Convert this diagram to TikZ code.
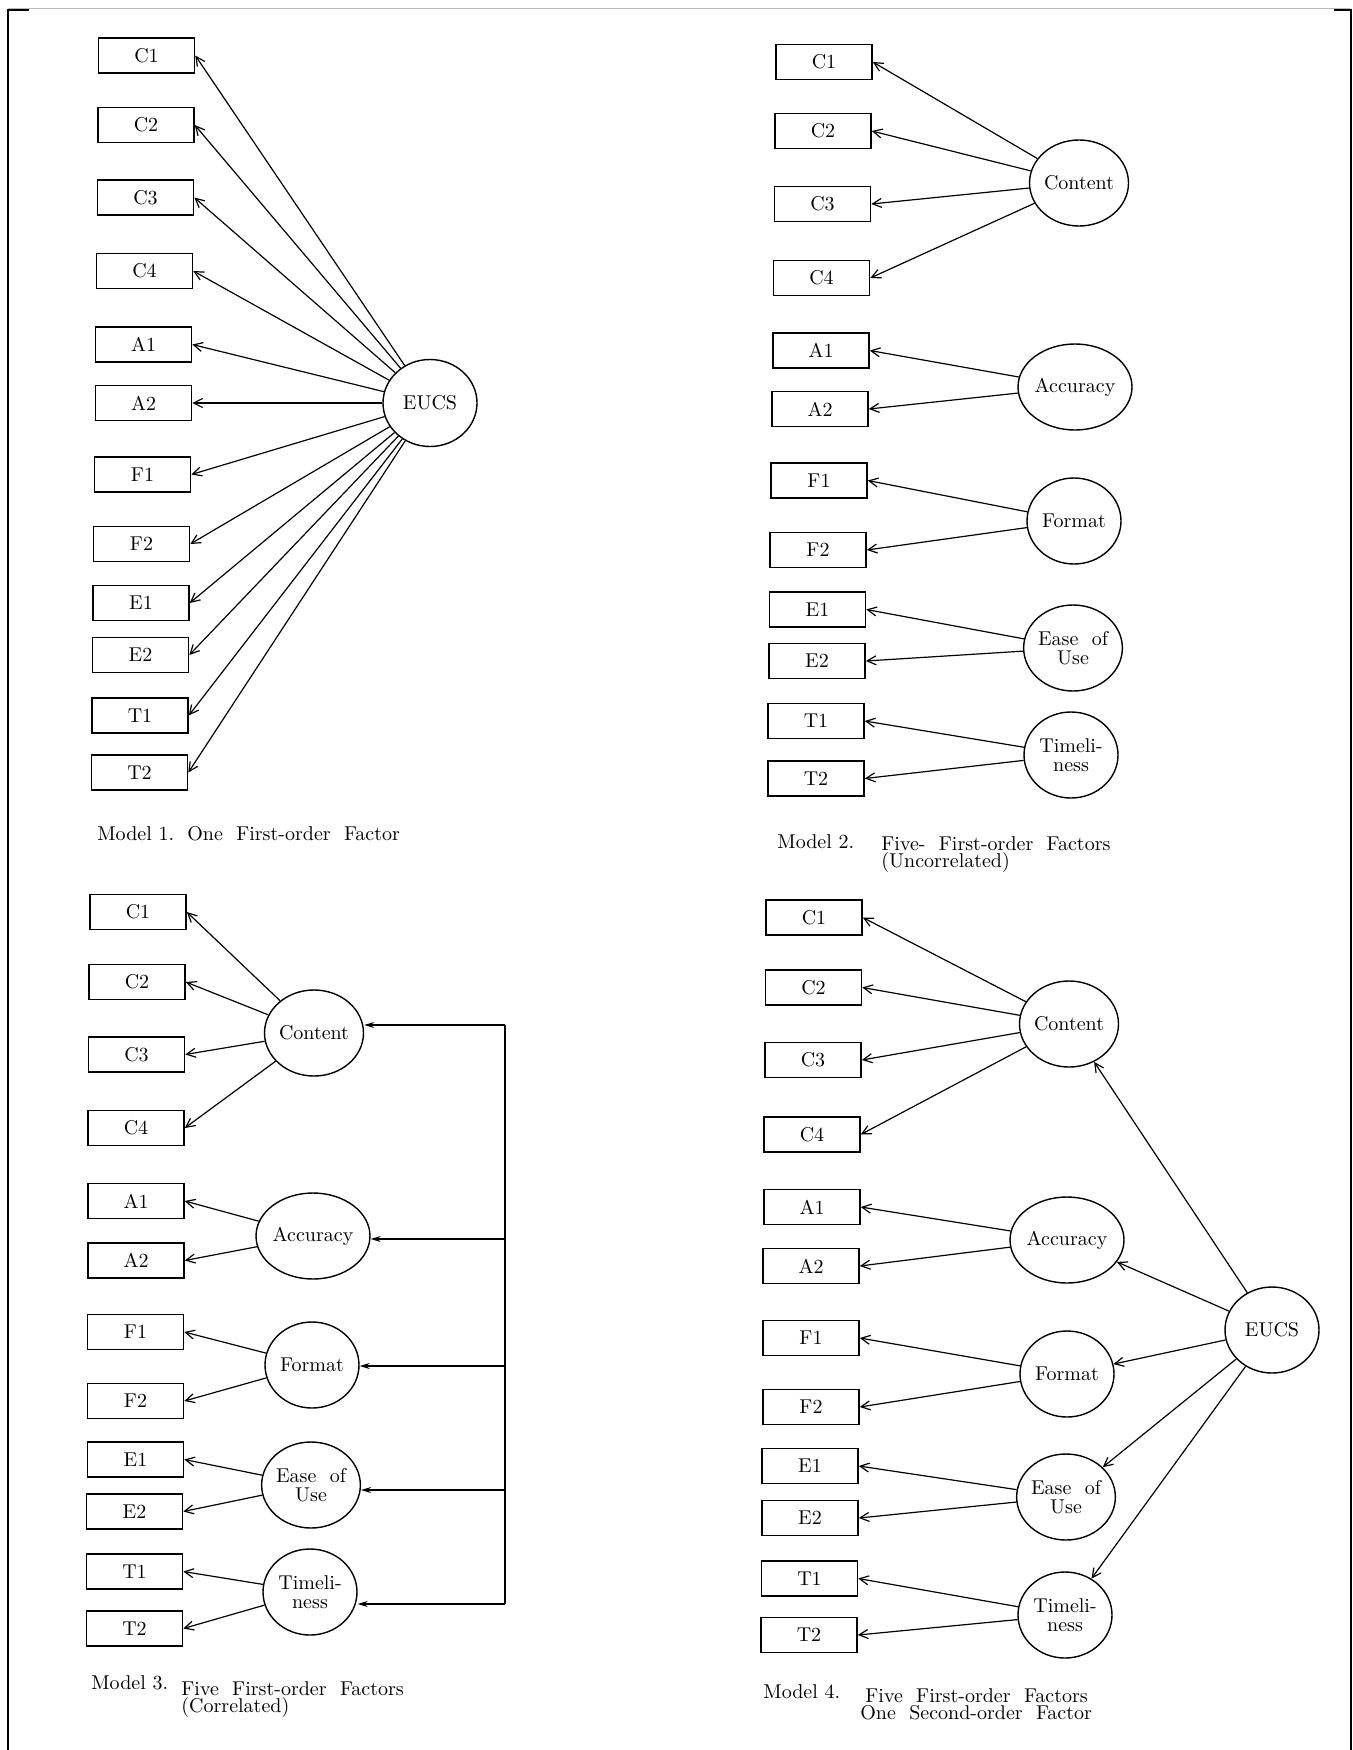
\documentclass[tikz,border=0pt]{standalone}
\usetikzlibrary{arrows.meta,shapes.geometric}
\begin{document}
\begin{tikzpicture}[x=0.5pt,y=-0.5pt,
  obs/.style={draw, line width=0.8pt, minimum width=48pt, minimum height=17.5pt, inner sep=0pt, font=\fontsize{10}{12}\selectfont},
  lat/.style={draw, ellipse, line width=0.7pt, minimum width=47pt, minimum height=43pt, inner sep=0pt, align=center, font=\fontsize{10}{9.5}\selectfont},
  ld/.style={line width=0.6pt, -{Straight Barb[length=4.5pt,width=4.5pt]}},
  corr/.style={line width=0.6pt, -{Stealth[length=5pt,width=3pt]}},
  captxt/.style={anchor=base west, inner sep=0pt, font=\fontsize{10}{12}\selectfont},
  pgframe/.style={line width=0.8pt}]
\useasboundingbox (0,0) rectangle (1353,1750);
% page frame
\draw[gray!55, line width=0.5pt] (8,9) -- (1351,9);
\coordinate (fa) at (8,10);
\coordinate (fb) at (29,10);
\coordinate (fc) at (1334,10);
\coordinate (fd) at (1351,10);
\coordinate (fe) at (8,1750);
\coordinate (ff) at (1351,1750);
\draw[pgframe] (fb) -- (fa) -- (fe);
\draw[pgframe] (fc) -- (fd) -- (ff);

% ---------------- Model 1 ----------------
\node[obs] (m1c1) at (146.5,55.5) {C1};
\node[obs] (m1c2) at (146,125) {C2};
\node[obs] (m1c3) at (145.5,197.5) {C3};
\node[obs] (m1c4) at (144.5,271) {C4};
\node[obs] (m1a1) at (143.5,344.5) {A1};
\node[obs] (m1a2) at (143.5,403) {A2};
\node[obs] (m1f1) at (142.5,474.5) {F1};
\node[obs] (m1f2) at (141.5,544) {F2};
\node[obs] (m1e1) at (141,603) {E1};
\node[obs] (m1e2) at (140.5,655) {E2};
\node[obs] (m1t1) at (140,715.5) {T1};
\node[obs] (m1t2) at (139.5,772.5) {T2};
\node[lat, minimum height=43.5pt] (m1eucs) at (430,403) {EUCS};
\foreach \b in {c1,c2,c3,c4,a1,a2,f1,f2,e1,e2,t1,t2}
  \draw[ld] (m1eucs) -- (m1\b.east);
\node[captxt] (cap1) at (97,840) {Model 1.\ \ One\ \ First-order\ \ Factor};

% ---------------- Model 2 ----------------
\node[obs] (m2c1) at (824,62) {C1};
\node[obs] (m2c2) at (823,131) {C2};
\node[obs] (m2c3) at (822.5,204) {C3};
\node[obs] (m2c4) at (821.5,278) {C4};
\node[obs] (m2a1) at (821,350.5) {A1};
\node[obs] (m2a2) at (820,409) {A2};
\node[obs] (m2f1) at (819,480.5) {F1};
\node[obs] (m2f2) at (818,550) {F2};
\node[obs] (m2e1) at (817.5,609.5) {E1};
\node[obs] (m2e2) at (817,661) {E2};
\node[obs] (m2t1) at (816,721) {T1};
\node[obs] (m2t2) at (816,778.5) {T2};
\node[lat] (m2con) at (1079,183) {Content};
\node[lat] (m2acc) at (1075,387) {Accuracy};
\node[lat] (m2for) at (1074,521) {Format};
\node[lat] (m2eas) at (1073,648) {Ease\ \ of\\Use};
\node[lat] (m2tim) at (1071,755) {Timeli-\\ness};
\foreach \b in {c1,c2,c3,c4} \draw[ld] (m2con) -- (m2\b.east);
\foreach \b in {a1,a2} \draw[ld] (m2acc) -- (m2\b.east);
\foreach \b in {f1,f2} \draw[ld] (m2for) -- (m2\b.east);
\foreach \b in {e1,e2} \draw[ld] (m2eas) -- (m2\b.east);
\foreach \b in {t1,t2} \draw[ld] (m2tim) -- (m2\b.east);
\node[captxt] (cap2a) at (777,848) {Model 2.};
\node[captxt] (cap2b) at (881,850) {Five-\ \ First-order\ \ Factors};
\node[captxt] (cap2c) at (881,867) {(Uncorrelated)};

% ---------------- Model 3 ----------------
\node[obs] (m3c1) at (138,912) {C1};
\node[obs] (m3c2) at (137,982) {C2};
\node[obs] (m3c3) at (136.5,1054.5) {C3};
\node[obs] (m3c4) at (136,1128) {C4};
\node[obs] (m3a1) at (136,1201) {A1};
\node[obs] (m3a2) at (136,1260.5) {A2};
\node[obs] (m3f1) at (135.5,1332) {F1};
\node[obs] (m3f2) at (135.5,1401) {F2};
\node[obs] (m3e1) at (135.5,1459.5) {E1};
\node[obs] (m3e2) at (134.5,1511.5) {E2};
\node[obs] (m3t1) at (134.5,1571.5) {T1};
\node[obs] (m3t2) at (134.5,1628.5) {T2};
\node[lat] (m3con) at (314,1033) {Content};
\node[lat] (m3acc) at (313,1236) {Accuracy};
\node[lat] (m3for) at (312,1365) {Format};
\node[lat] (m3eas) at (311,1485) {Ease\ \ of\\Use};
\node[lat] (m3tim) at (310,1592) {Timeli-\\ness};
\foreach \b in {c1,c2,c3,c4} \draw[ld] (m3con) -- (m3\b.east);
\foreach \b in {a1,a2} \draw[ld] (m3acc) -- (m3\b.east);
\foreach \b in {f1,f2} \draw[ld] (m3for) -- (m3\b.east);
\foreach \b in {e1,e2} \draw[ld] (m3eas) -- (m3\b.east);
\foreach \b in {t1,t2} \draw[ld] (m3tim) -- (m3\b.east);
\coordinate (v1) at (505,1025);
\coordinate (v2) at (505,1239);
\coordinate (v3) at (505,1366);
\coordinate (v4) at (505,1490);
\coordinate (v5) at (505,1604);
\draw[line width=0.6pt] (v1) -- (v5);
\draw[corr] (v1) -- (v1 -| m3con.east);
\draw[corr] (v2) -- (v2 -| m3acc.east);
\draw[corr] (v3) -- (v3 -| m3for.east);
\draw[corr] (v4) -- (v4 -| m3eas.east);
\draw[corr] (v5) -- (v5 -| m3tim.east);
\node[captxt] (cap3a) at (91,1689) {Model 3.};
\node[captxt] (cap3b) at (181,1695) {Five\ \ First-order\ \ Factors};
\node[captxt] (cap3c) at (181,1712) {(Correlated)};

% ---------------- Model 4 ----------------
\node[obs] (m4c1) at (814,917.5) {C1};
\node[obs] (m4c2) at (813.5,987.5) {C2};
\node[obs] (m4c3) at (813,1060) {C3};
\node[obs] (m4c4) at (812,1134.5) {C4};
\node[obs] (m4a1) at (812,1207) {A1};
\node[obs] (m4a2) at (811,1266) {A2};
\node[obs] (m4f1) at (811,1338) {F1};
\node[obs] (m4f2) at (811,1407) {F2};
\node[obs] (m4e1) at (810,1466) {E1};
\node[obs] (m4e2) at (810,1518) {E2};
\node[obs] (m4t1) at (809.5,1578.5) {T1};
\node[obs] (m4t2) at (809,1635) {T2};
\node[lat] (m4con) at (1069,1024) {Content};
\node[lat] (m4acc) at (1067,1240) {Accuracy};
\node[lat] (m4for) at (1067,1374) {Format};
\node[lat] (m4eas) at (1066,1497) {Ease\ \ of\\Use};
\node[lat] (m4tim) at (1065,1615) {Timeli-\\ness};
\node[lat] (m4eucs) at (1272,1330) {EUCS};
\foreach \b in {c1,c2,c3,c4} \draw[ld] (m4con) -- (m4\b.east);
\foreach \b in {a1,a2} \draw[ld] (m4acc) -- (m4\b.east);
\foreach \b in {f1,f2} \draw[ld] (m4for) -- (m4\b.east);
\foreach \b in {e1,e2} \draw[ld] (m4eas) -- (m4\b.east);
\foreach \b in {t1,t2} \draw[ld] (m4tim) -- (m4\b.east);
\foreach \f in {con,acc,for,eas,tim} \draw[ld] (m4eucs) -- (m4\f);
\node[captxt] (cap4a) at (763,1698) {Model 4.};
\node[captxt] (cap4b) at (865,1702) {Five\ \ First-order\ \ Factors};
\node[captxt] (cap4c) at (860,1719) {One\ \ Second-order\ \ Factor};
\end{tikzpicture}
\end{document}
